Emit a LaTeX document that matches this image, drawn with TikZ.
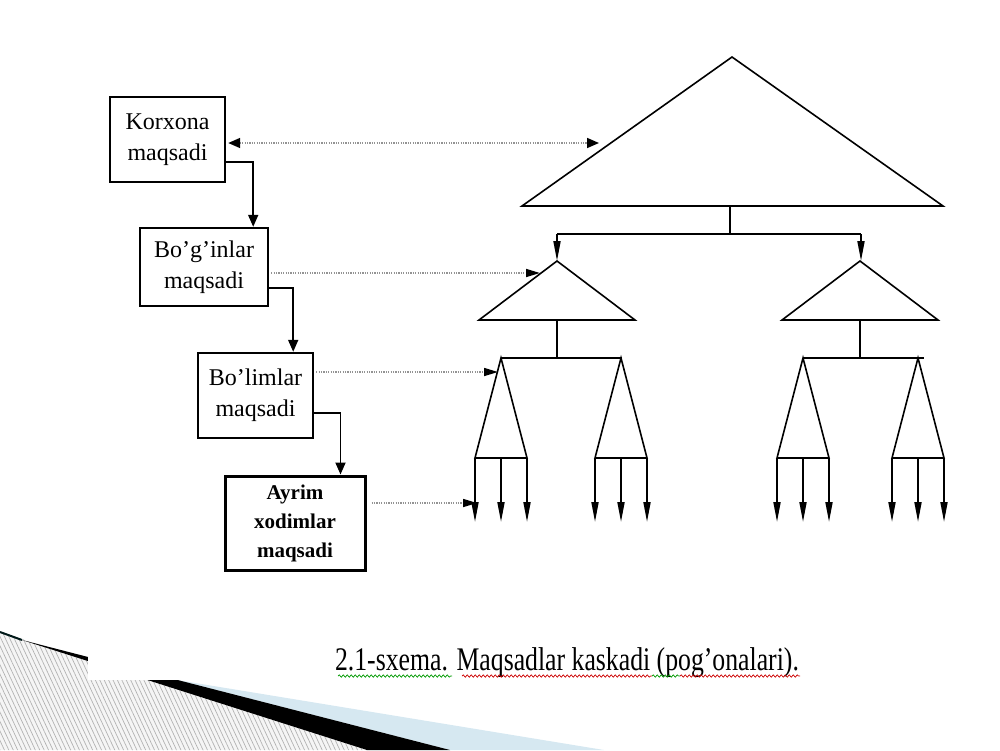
\documentclass[tikz,border=0pt]{standalone}
\usepackage{fontspec}
\setmainfont{Liberation Serif}
\newfontfamily\captionfont[FakeStretch=0.78]{Liberation Serif}
\usepackage{tikz}
\usetikzlibrary{positioning}
\usetikzlibrary{calc}
\usetikzlibrary{arrows.meta}
\usetikzlibrary{patterns.meta}
\usetikzlibrary{decorations.pathmorphing}
\definecolor{slideblue}{RGB}{214,232,241}
\tikzset{
	goalbox/.style={draw, line width=1.2pt, align=center, inner sep=0pt, font=\fontsize{12}{15.5}\selectfont},
	flow/.style={line width=0.9pt, -{Triangle[length=6pt,width=5pt]}},
	dotlink/.style={gray!85, line width=0.8pt, dash pattern=on 0.6pt off 0.6pt},
	tri/.style={line width=0.8pt, line join=miter},
	bar/.style={line width=1.1pt},
	leaf/.style={line width=0.9pt, -{Triangle[length=10pt,width=3.5pt]}},
	squig/.style={line width=0.35pt, decorate, decoration={snake, segment length=2pt, amplitude=0.6pt}}
}
\begin{document}
\begin{tikzpicture}[x=0.5pt, y=-0.5pt]
		\useasboundingbox (0,0) rectangle (1000,750);
		% slide corner
		\fill [slideblue] (177,680) -- (604,750) -- (450,750) -- cycle;
		\fill [gray!8] (0,632) -- (367,750) -- (0,750) -- cycle;
		\fill [pattern={Lines[angle=-65,distance=2pt,line width=0.35pt]}, pattern color=gray!60] (0,632) -- (367,750) -- (0,750) -- cycle;
		\fill [black] (22,640) -- (450,750) -- (367,750) -- cycle;
		\draw [line width=1pt, black!80!teal] (0,632) -- (22,640);
		\fill [white] (88,600) rectangle (330,680);

		\node at (167.5,139.5) [goalbox, minimum width=57.5pt, minimum height=42.5pt] (korxona) {Korxona\\maqsadi};
		\node at (204,267) [goalbox, minimum width=64pt, minimum height=39pt] (boginlar) {Bo’g’inlar\\maqsadi};
		\node at (255.5,395.5) [goalbox, minimum width=57.5pt, minimum height=42.5pt] (bolimlar) {Bo’limlar\\maqsadi};
		\node at (295,523) [goalbox, line width=1.5pt, minimum width=70pt, minimum height=47pt, font=\bfseries\fontsize{10.5}{14.5}\selectfont] (ayrim) {Ayrim\\xodimlar\\maqsadi};

		\draw [flow] ([yshift=10.5pt]korxona.south east) -| ([xshift=-8pt]boginlar.north east);
		\draw [flow] ([yshift=9.5pt]boginlar.south east) -| ([xshift=-10.5pt]bolimlar.north east);
		\draw [flow] ([yshift=13pt]bolimlar.south east) -| ([xshift=-13pt]ayrim.north east);

		\coordinate (goal0) at (599,143);
		\coordinate (goal1) at (540,273);
		\coordinate (goal2) at (498,372);
		\coordinate (goal3) at (477,503);
		\draw [dotlink, {Triangle[length=6pt,width=5pt,color=black]}-{Triangle[length=6pt,width=5pt,color=black]}] ([xshift=1pt,yshift=-1.75pt]korxona.east) -- (goal0);
		\draw [dotlink, -{Triangle[length=7pt,width=4pt,color=black]}] ([xshift=1pt,yshift=-3pt]boginlar.east) -- (goal1);
		\draw [dotlink, -{Triangle[length=7pt,width=4pt,color=black]}] ([xshift=1pt,yshift=11.75pt]bolimlar.east) -- (goal2);
		\draw [dotlink, -{Triangle[length=7pt,width=4pt,color=black]}] ([xshift=2.5pt,yshift=10pt]ayrim.east) -- (goal3);

		\coordinate (apex) at (732,57);
		\draw [tri] (apex) -- (943,206) -- (522,206) -- cycle;
		\draw [bar] (730,206) -- (730,234);
		\draw [bar] (557,234) -- (861,234);
		\foreach \cx in {557,861} {
			\draw [leaf] (\cx,234) -- (\cx,261);
		}
		\foreach \cx in {557,860} {
			\draw [tri] (\cx,261) -- (\cx+78,320) -- (\cx-78,320) -- cycle;
			\draw [bar] (\cx,320) -- (\cx,358);
		}
		\draw [bar] (501,358) -- (622,358);
		\draw [bar] (803,358) -- (924,358);
		\foreach \cx in {501,621,803,918} {
			\draw [tri] (\cx,358) -- (\cx+26,458) -- (\cx-26,458) -- cycle;
			\foreach \dx in {-26,0,26}
				\draw [leaf] (\cx+\dx,458) -- (\cx+\dx,522);
		}

		\node at (567,670) [anchor=base, inner sep=0pt, font=\captionfont\fontsize{16.5}{18}\selectfont] (caption) {2.1-sxema. Maqsadlar kaskadi (pog’onalari).};
		\draw [squig, green!60!black] (338,676) -- (452,676);
		\draw [squig, red!80!black] (462,676) -- (652,676);
		\draw [squig, green!60!black] (652,676) -- (680,676);
		\draw [squig, red!80!black] (680,676) -- (800,676);
		\end{tikzpicture}
\end{document}
